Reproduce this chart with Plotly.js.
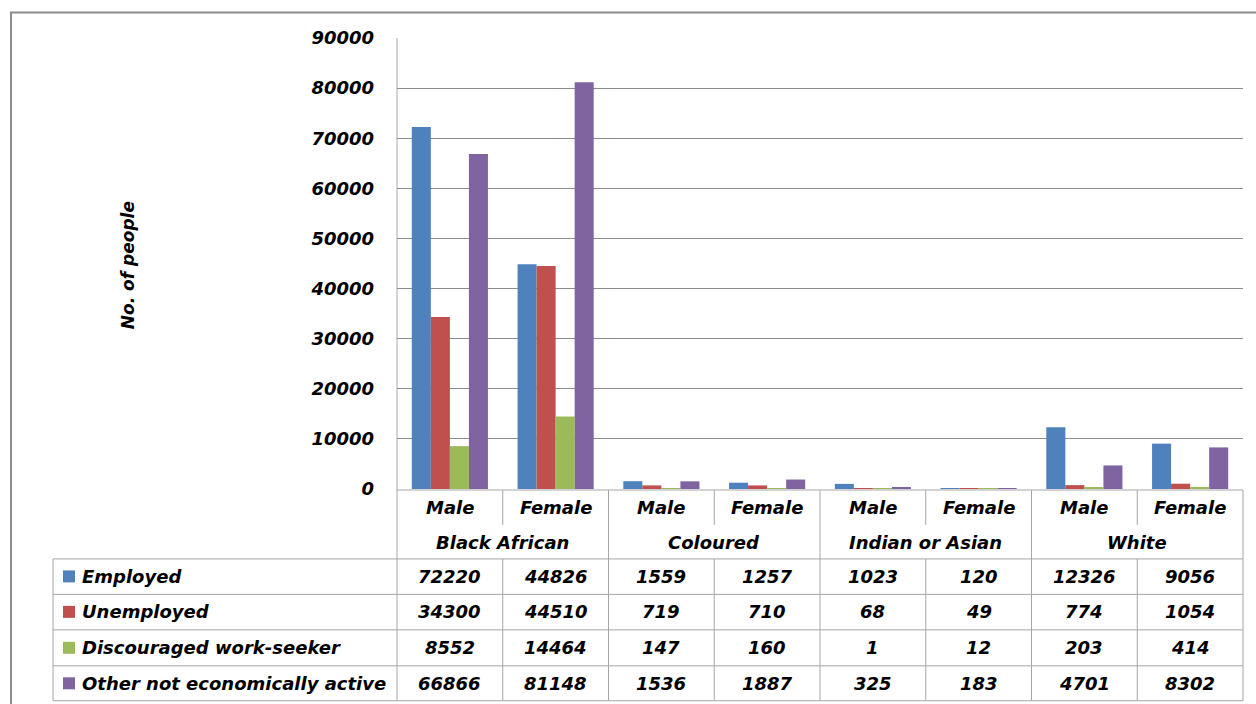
<!DOCTYPE html>
<html>
<head>
<meta charset="utf-8">
<script src="https://cdn.plot.ly/plotly-3.0.1.min.js"></script>
<style>
  html, body { margin: 0; padding: 0; background: #ffffff; }
  #chart { width: 1256px; height: 704px; }
</style>
</head>
<body>
<div id="chart"></div>
<script>
// Population groups and sexes along the category axis
const groups = ["Black African", "Coloured", "Indian or Asian", "White"];
const sexes = ["Male", "Female"];

// Labour-force status series (one value per group/sex column)
const seriesNames = ["Employed", "Unemployed", "Discouraged work-seeker", "Other not economically active"];
const employed = [72220, 44826, 1559, 1257, 1023, 120, 12326, 9056];
const unemployed = [34300, 44510, 719, 710, 68, 49, 774, 1054];
const discouraged = [8552, 14464, 147, 160, 1, 12, 203, 414];
const otherInactive = [66866, 81148, 1536, 1887, 325, 183, 4701, 8302];

const yTicks = [0, 10000, 20000, 30000, 40000, 50000, 60000, 70000, 80000, 90000];
const yTitle = "No. of people";

const seriesValues = [employed, unemployed, discouraged, otherInactive];
const colors = ["#4F81BD", "#C0504D", "#9BBB59", "#8064A2"];

// Category keys: one per group/sex pair
const cats = [];
groups.forEach(g => sexes.forEach(s => cats.push(g + " " + s)));

// Plot area in pixels, used to place the data table below it
const W = 1256, H = 704;
const L = 397, R = 1243, T = 37.5, B = 489;
const px = v => (v - L) / (R - L);
const py = v => (B - v) / (B - T);

const FONT = "DejaVu Sans";
const lineCol = "#a6a6a6";
const txtFont = { family: FONT, size: 18, color: "#000000", weight: "bold", style: "italic" };
const titleFont = { family: FONT, size: 17, color: "#000000", weight: "bold", style: "italic" };

const traces = seriesNames.map((name, i) => ({
  type: "bar",
  name: name,
  x: cats,
  y: seriesValues[i],
  marker: { color: colors[i], line: { width: 0 } },
  hoverinfo: "x+y+name"
}));

const shapes = [];
const annotations = [];

function hline(y, x0, x1, color, w) {
  shapes.push({ type: "line", xref: "paper", yref: "paper",
    x0: px(x0), x1: px(x1), y0: py(y), y1: py(y),
    line: { color: color || lineCol, width: w || 1 } });
}
function vline(x, y0, y1, color, w) {
  shapes.push({ type: "line", xref: "paper", yref: "paper",
    x0: px(x), x1: px(x), y0: py(y0), y1: py(y1),
    line: { color: color || lineCol, width: w || 1 } });
}

// Outer chart border
shapes.push({ type: "rect", xref: "paper", yref: "paper",
  x0: px(11), x1: px(1270), y0: py(12), y1: py(720),
  line: { color: "#8c8c8c", width: 2 }, fillcolor: "rgba(0,0,0,0)" });

// Table rows
const colW = (R - L) / cats.length;
const rowTop = 490, sexRowBot = 525, groupRowBot = 559;
const rowLines = [559, 594.5, 630, 666, 701];
hline(rowTop, L, R);
rowLines.forEach(y => hline(y, 53, R));

// Table columns
vline(53, groupRowBot, 701);
vline(L, T, 701);
vline(R, rowTop, 701);
for (let c = 1; c < cats.length; c++) {
  const x = L + c * colW;
  if (c % 2 === 0) {
    vline(x, rowTop, 701);
  } else {
    vline(x, rowTop, sexRowBot);
    vline(x, groupRowBot, 701);
  }
}

function label(text, xPix, yPix, anchor) {
  annotations.push({ xref: "paper", yref: "paper", x: px(xPix), y: py(yPix),
    text: text, showarrow: false, xanchor: anchor || "center", yanchor: "middle",
    font: txtFont });
}

// Sex and group header rows
cats.forEach((c, i) => label(sexes[i % 2], L + (i + 0.5) * colW, 507.5));
groups.forEach((g, i) => label(g, L + (2 * i + 1) * colW, 542.5));

// Data rows with legend keys
const rowCenters = [576.5, 612, 648, 683.5];
seriesNames.forEach((name, r) => {
  const yc = rowCenters[r];
  shapes.push({ type: "rect", xref: "paper", yref: "paper",
    x0: px(63), x1: px(75), y0: py(yc - 6), y1: py(yc + 6),
    fillcolor: colors[r], line: { width: 0 } });
  label(name, 80, yc, "left");
  seriesValues[r].forEach((v, i) => label(String(v), L + (i + 0.5) * colW, yc));
});

// Rotated axis title
annotations.push({ xref: "paper", yref: "paper", x: px(128), y: py(265),
  text: yTitle, showarrow: false, textangle: -90, xanchor: "center", yanchor: "middle",
  font: titleFont });

const layout = {
  width: W, height: H,
  margin: { l: L, r: W - R, t: T, b: H - B, pad: 0 },
  paper_bgcolor: "#ffffff",
  plot_bgcolor: "#ffffff",
  showlegend: false,
  barmode: "group",
  bargap: 0.28,
  bargroupgap: 0,
  xaxis: {
    type: "category",
    range: [-0.5, cats.length - 0.5],
    showticklabels: false,
    showgrid: false,
    zeroline: false,
    showline: false,
    ticks: ""
  },
  yaxis: {
    range: [0, 90000],
    tickvals: yTicks,
    ticktext: yTicks.map(String),
    showgrid: true,
    gridcolor: "#8c8c8c",
    gridwidth: 1,
    zeroline: false,
    showline: false,
    ticks: "",
    ticklabelstandoff: 22,
    tickfont: txtFont
  },
  shapes: shapes,
  annotations: annotations
};

Plotly.newPlot("chart", traces, layout, { displayModeBar: false, staticPlot: false });
</script>
</body>
</html>
